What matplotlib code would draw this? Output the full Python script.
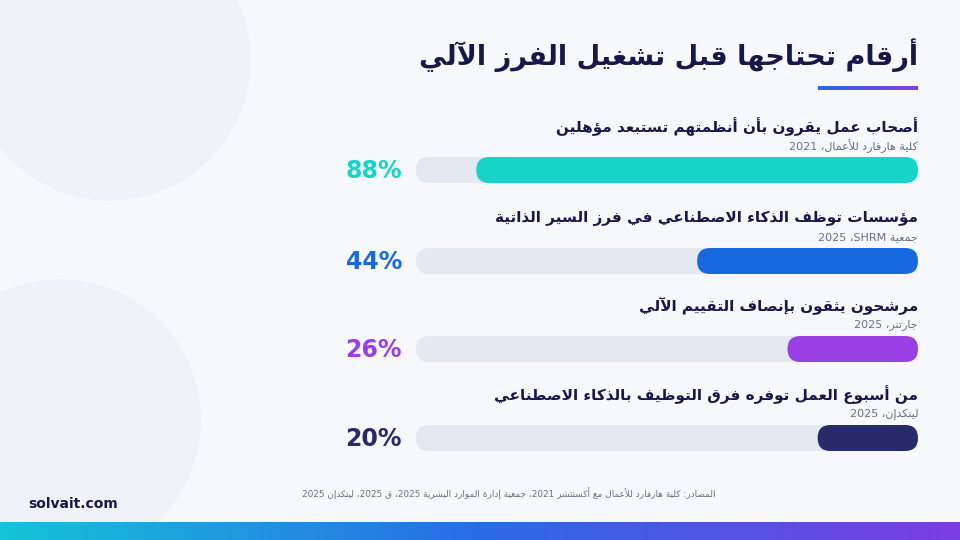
import re
import numpy as np
import matplotlib
matplotlib.use("Agg")
import matplotlib.pyplot as plt
from matplotlib.patches import FancyBboxPatch, Circle
from matplotlib.colors import LinearSegmentedColormap

title = "أرقام تحتاجها قبل تشغيل الفرز الآلي"
labels = ["أصحاب عمل يقرون بأن أنظمتهم تستبعد مؤهلين",
          "مؤسسات توظف الذكاء الاصطناعي في فرز السير الذاتية",
          "مرشحون يثقون بإنصاف التقييم الآلي",
          "من أسبوع العمل توفره فرق التوظيف بالذكاء الاصطناعي"]
sources = ["كلية هارفارد للأعمال، 2021", "جمعية SHRM، 2025", "جارتنر، 2025", "لينكدإن، 2025"]
values = [88, 44, 26, 20]
colors = ["#17d4c8", "#1769e0", "#9a3fe3", "#272a6b"]
footer = "المصادر: كلية هارفارد للأعمال مع أكسنتشر 2021، جمعية إدارة الموارد البشرية 2025، ق 2025، لينكدإن 2025"

# --- minimal Arabic shaping ---
F = {'ء':(0xFE80,None,None,None),'آ':(0xFE81,0xFE82,None,None),'أ':(0xFE83,0xFE84,None,None),
     'ؤ':(0xFE85,0xFE86,None,None),'إ':(0xFE87,0xFE88,None,None),'ئ':(0xFE89,0xFE8A,0xFE8B,0xFE8C),
     'ا':(0xFE8D,0xFE8E,None,None),'ة':(0xFE93,0xFE94,None,None),'د':(0xFEA9,0xFEAA,None,None),
     'ذ':(0xFEAB,0xFEAC,None,None),'ر':(0xFEAD,0xFEAE,None,None),'ز':(0xFEAF,0xFEB0,None,None),
     'و':(0xFEED,0xFEEE,None,None),'ى':(0xFEEF,0xFEF0,None,None)}
for ch, b in zip("بتثجحخ", [0xFE8F,0xFE95,0xFE99,0xFE9D,0xFEA1,0xFEA5]):
    F[ch] = (b, b+1, b+2, b+3)
for ch, b in zip("سشصضطظعغفقكلمنهي", [0xFEB1,0xFEB5,0xFEB9,0xFEBD,0xFEC1,0xFEC5,0xFEC9,0xFECD,
                                   0xFED1,0xFED5,0xFED9,0xFEDD,0xFEE1,0xFEE5,0xFEE9,0xFEF1]):
    F[ch] = (b, b+1, b+2, b+3)
LA = {'ا':(0xFEFB,0xFEFC),'أ':(0xFEF7,0xFEF8),'إ':(0xFEF9,0xFEFA),'آ':(0xFEF5,0xFEF6)}

def dual(c):
    return c in F and F[c][2] is not None

def shape(s):
    s = s.replace('\u0651', '')
    out = []
    i = 0
    n = len(s)
    while i < n:
        c = s[i]
        if c not in F:
            out.append(c); i += 1; continue
        prev = s[i-1] if i > 0 else ''
        jp = dual(prev)
        if c == 'ل' and i+1 < n and s[i+1] in LA:
            iso, fin = LA[s[i+1]]
            out.append(chr(fin if jp else iso)); i += 2; continue
        nxt = s[i+1] if i+1 < n else ''
        jn = dual(c) and nxt in F
        iso, fin, ini, med = F[c]
        if jp and jn: g = med
        elif jp: g = fin
        elif jn: g = ini
        else: g = iso
        out.append(chr(g)); i += 1
    return ''.join(out)

def ar(s):
    sh = shape(s)
    runs = re.findall(r'[A-Za-z0-9%.]+|[^A-Za-z0-9%.]+', sh)
    res = []
    for r in reversed(runs):
        if re.match(r'[A-Za-z0-9%.]', r):
            res.append(r)
        else:
            res.append(r[::-1])
    return ''.join(res)

plt.rcParams['font.family'] = ['DejaVu Sans']
fig = plt.figure(figsize=(9.6, 5.4), dpi=100)
fig.patch.set_facecolor("#f6f8fc")
ax = fig.add_axes([0, 0, 1, 1])
ax.set_xlim(0, 960); ax.set_ylim(540, 0); ax.axis('off')

# decorative circles
ax.add_patch(Circle((110, 60), 140, color="#f0f2fa", zorder=0))
ax.add_patch(Circle((60, 420), 140, color="#f0f2fa", zorder=0))

# bottom gradient strip
grad = np.linspace(0, 1, 256).reshape(1, -1)
cmap = LinearSegmentedColormap.from_list("g", ["#14c4d8", "#2a6be6", "#7a3de0"])
ax.imshow(grad, extent=[0, 960, 540, 522], aspect='auto', cmap=cmap, zorder=1)
cmap2 = LinearSegmentedColormap.from_list("g2", ["#2a6be6", "#8a3de0"])
ax.imshow(grad, extent=[818, 918, 90, 86], aspect='auto', cmap=cmap2, zorder=1)
ax.set_xlim(0, 960); ax.set_ylim(540, 0)

ax.text(918, 55, ar(title), ha='right', va='center', fontsize=19.5, fontweight='bold', color="#17184a")

x0, x1 = 416, 918
W = x1 - x0
ys = [170, 261, 349, 438]
h = 26
for v, lab, src, col, y in zip(values, labels, sources, colors, ys):
    ax.add_patch(FancyBboxPatch((x0, y - h/2), W, h,
                 boxstyle=f"round,pad=0,rounding_size={h/2}", fc="#e4e8f1", ec="none", zorder=2))
    w = W * v / 100
    ax.add_patch(FancyBboxPatch((x1 - w, y - h/2), w, h,
                 boxstyle=f"round,pad=0,rounding_size={h/2}", fc=col, ec="none", zorder=3))
    ax.text(402, y + 1, f"{v}%", ha='right', va='center', fontsize=17, fontweight='bold', color=col)
    ax.text(918, y - 43, ar(lab), ha='right', va='center', fontsize=11, fontweight='bold', color="#17184a")
    ax.text(918, y - 24, ar(src), ha='right', va='center', fontsize=8, color="#6a6f88")

ax.text(716, 494, ar(footer), ha='right', va='center', fontsize=6.4, color="#6a6f88")
ax.text(28, 504, "solvait.com", ha='left', va='center', fontsize=10, fontweight='bold', color="#17184a")

fig.savefig("out.png", dpi=100, facecolor=fig.get_facecolor())
